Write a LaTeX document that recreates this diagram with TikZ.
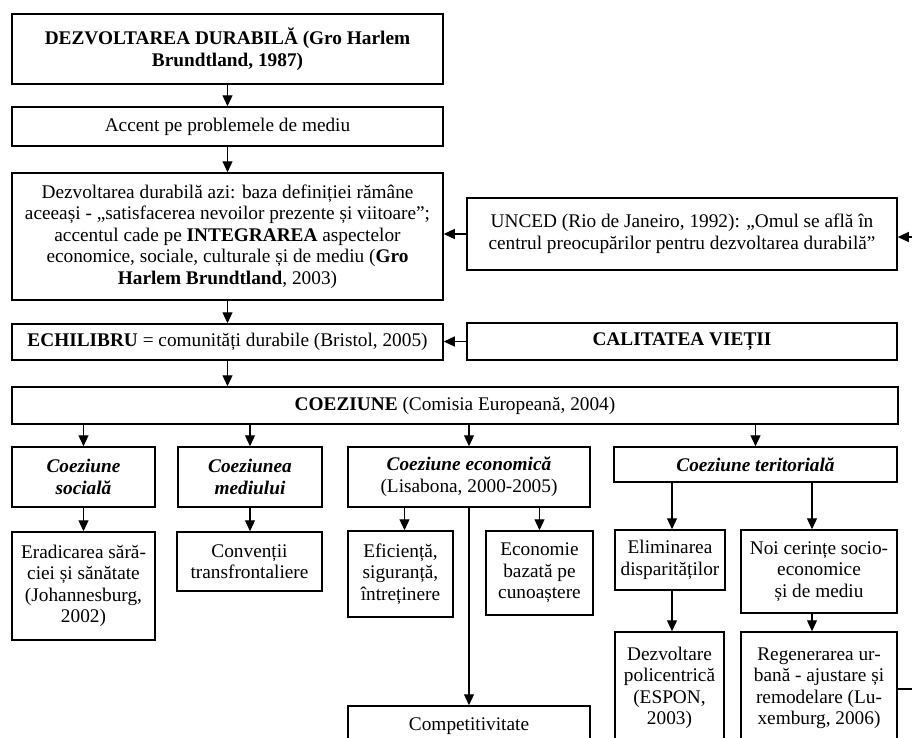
\documentclass[tikz,border=0pt]{standalone}
\usepackage{fontspec}
\setmainfont{Liberation Serif}
\usetikzlibrary{arrows.meta}
\tikzset{
  box/.style={draw, line width=1.5pt, inner sep=0pt, align=center,
    font=\fontsize{19.3}{21.5}\selectfont},
  arr/.style={line width=1.2pt, -{Triangle[length=11pt,width=10pt]}},
  plain/.style={line width=1.2pt}
}
\begin{document}
\begin{tikzpicture}[x=1pt,y=-1pt]
\useasboundingbox (0,0) rectangle (912,737);
\clip (0,0) rectangle (912,737);
\fill[white] (0,0) rectangle (912,737);

\node[box,minimum width=431pt,minimum height=70pt] (b1) at (227.5,49)
  {\textbf{DEZVOLTAREA DURABILĂ (Gro Harlem}\\\textbf{Brundtland, 1987)}};
\node[box,minimum width=431pt,minimum height=39pt] (b2) at (227.5,126.5)
  {Accent pe problemele de mediu};
\node[box,minimum width=431pt,minimum height=127pt] (b3) at (227.5,236.5)
  {Dezvoltarea durabilă azi: baza definiției rămâne\\
   aceeași - „satisfacerea nevoilor prezente și viitoare”;\\
   accentul cade pe \textbf{INTEGRAREA} aspectelor\\
   economice, sociale, culturale și de mediu (\textbf{Gro}\\
   \textbf{Harlem Brundtland}, 2003)};
\node[box,minimum width=430pt,minimum height=72pt] (unced) at (682,234)
  {UNCED (Rio de Janeiro, 1992): „Omul se află în\\
   centrul preocupărilor pentru dezvoltarea durabilă”};
\node[box,minimum width=431pt,minimum height=36pt] (echi) at (227.5,342)
  {\textbf{ECHILIBRU} = comunități durabile (Bristol, 2005)};
\node[box,minimum width=430pt,minimum height=37pt] (cal) at (682,341.5)
  {\textbf{CALITATEA VIEȚII}};
\node[box,minimum width=886pt,minimum height=37pt] (coez) at (455,405.5)
  {\textbf{COEZIUNE} (Comisia Europeană, 2004)};

\node[box,minimum width=143pt,minimum height=60pt] (soc) at (83.5,477)
  {\textbf{\textit{Coeziune}}\\\textbf{\textit{socială}}};
\node[box,minimum width=144pt,minimum height=60pt] (med) at (250,477)
  {\textbf{\textit{Coeziunea}}\\\textbf{\textit{mediului}}};
\node[box,minimum width=242pt,minimum height=60pt] (eco) at (469,477)
  {\textbf{\textit{Coeziune economică}}\\(Lisabona, 2000-2005)};
\node[box,minimum width=283pt,minimum height=35pt] (ter) at (755.5,464.5)
  {\textbf{\textit{Coeziune teritorială}}};

\node[box,minimum width=143pt,minimum height=108pt] (erad) at (83.5,586)
  {Eradicarea sără-\\ciei și sănătate\\(Johannesburg,\\2002)};
\node[box,minimum width=145pt,minimum height=59pt] (conv) at (249.5,561.5)
  {Convenții\\transfrontaliere};
\node[box,minimum width=105pt,minimum height=86pt] (efic) at (400.5,574)
  {Eficiență,\\siguranță,\\întreținere};
\node[box,minimum width=107pt,minimum height=84pt] (econ) at (539.5,573)
  {Economie\\bazată pe\\cunoaștere};
\node[box,minimum width=110pt,minimum height=60pt] (elim) at (670,560)
  {Eliminarea\\disparităților};
\node[box,minimum width=156pt,minimum height=83pt] (noi) at (819,571.5)
  {Noi cerințe socio-\\economice\\și de mediu};
\node[box,minimum width=109pt,minimum height=112pt] (dezv) at (669.5,688)
  {Dezvoltare\\policentrică\\(ESPON,\\2003)};
\node[box,minimum width=156pt,minimum height=112pt] (regen) at (819,688)
  {Regenerarea ur-\\bană - ajustare și\\remodelare (Lu-\\xemburg, 2006)};
\node[box,minimum width=242pt,minimum height=40pt] (comp) at (469,726)
  {Competitivitate};

\coordinate (rin) at (912,237);
\coordinate (rout) at (912,689);

\draw[arr] (b1) -- (b2);
\draw[arr] (b2) -- (b3);
\draw[arr] (b3) -- (echi);
\draw[arr] (unced.west) -- (unced.west -| b3.east);
\draw[arr] (rin) -- (rin -| unced.east);
\draw[arr] (cal.west) -- (cal.west -| echi.east);
\draw[arr] (echi.south) -- (echi.south |- coez.north);
\draw[arr] (soc.north |- coez.south) -- (soc.north);
\draw[arr] (med.north |- coez.south) -- (med.north);
\draw[arr] (eco.north |- coez.south) -- (eco.north);
\draw[arr] (ter.north |- coez.south) -- (ter.north);
\draw[arr] (soc) -- (erad);
\draw[arr] (med.south) -- (med.south |- conv.north);
\draw[arr] ([xshift=4pt]efic.north |- eco.south) -- ([xshift=4pt]efic.north);
\draw[arr] (econ.north |- eco.south) -- (econ.north);
\draw[arr] (comp.north |- eco.south) -- (comp.north);
\draw[arr] ([xshift=2pt]elim.north |- ter.south) -- ([xshift=2pt]elim.north);
\draw[arr] ([xshift=-7pt]noi.north |- ter.south) -- ([xshift=-7pt]noi.north);
\draw[arr] ([xshift=2pt]elim.south) -- ([xshift=2pt]elim.south |- dezv.north);
\draw[arr] ([xshift=-7pt]noi.south) -- ([xshift=-7pt]noi.south |- regen.north);
\draw[plain] (regen.east |- rout) -- (rout);
\end{tikzpicture}
\end{document}
